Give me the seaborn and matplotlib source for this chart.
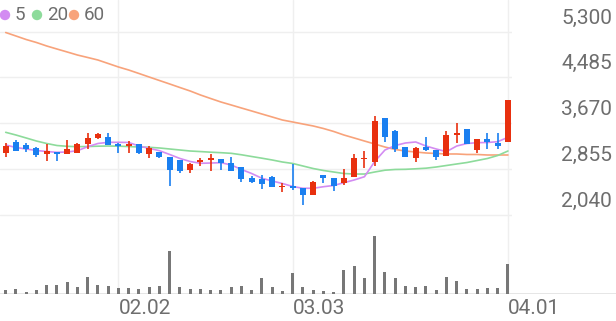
import numpy as np
import matplotlib
matplotlib.use("Agg")
import matplotlib.pyplot as plt
import seaborn as sns
from matplotlib.patches import Circle

# ---------------- data ----------------
dates = ["01.16", "01.19", "01.20", "01.21", "01.22", "01.23", "01.26", "01.27", "01.28", "01.29",
         "01.30", "02.02", "02.03", "02.04", "02.05", "02.06", "02.09", "02.10", "02.11", "02.12",
         "02.13", "02.19", "02.20", "02.23", "02.24", "02.25", "02.26", "02.27", "03.03", "03.04",
         "03.05", "03.06", "03.09", "03.10", "03.11", "03.12", "03.13", "03.16", "03.17", "03.18",
         "03.19", "03.20", "03.23", "03.24", "03.25", "03.26", "03.27", "03.30", "03.31", "04.01"]
tick_dates = ["02.02", "03.03", "04.01"]

opens = [3130, 3325, 3280, 3230, 3110, 3160, 3110, 3140, 3290, 3395,
         3425, 3290, 3260, 3290, 3110, 3160, 3060, 3010, 2835, 2980,
         3010, 3025, 2950, 2890, 2695, 2665, 2705, 2525, 2550, 2505,
         2385, 2745, 2695, 2595, 2715, 3025, 2980, 3755, 3535, 3235,
         3050, 3250, 3190, 3090, 3455, 3560, 3190, 3385, 3320, 3335]
highs = [3310, 3365, 3310, 3235, 3290, 3160, 3365, 3315, 3485, 3485,
         3485, 3310, 3355, 3290, 3260, 3160, 3060, 3010, 2950, 3050,
         3110, 3025, 3070, 2890, 2725, 2745, 2725, 2605, 2940, 2505,
         2640, 2745, 2695, 2845, 3120, 3170, 3795, 3755, 3545, 3235,
         3250, 3415, 3190, 3520, 3665, 3560, 3385, 3485, 3485, 4080]
lows = [3060, 3175, 3150, 3065, 2995, 2995, 3110, 3130, 3200, 3385,
        3280, 3140, 3140, 3112, 3050, 3050, 2550, 2775, 2775, 2910,
        2820, 2835, 2820, 2625, 2595, 2490, 2535, 2445, 2475, 2210,
        2385, 2595, 2460, 2565, 2715, 2875, 2905, 3335, 3160, 3060,
        2980, 3175, 3010, 3090, 3310, 3295, 3130, 3200, 3200, 3335]
closes = [3265, 3180, 3205, 3100, 3170, 3110, 3200, 3295, 3395, 3470,
          3280, 3260, 3290, 3130, 3220, 3070, 2835, 2820, 2935, 3010,
          3050, 2965, 2820, 2665, 2625, 2585, 2535, 2555, 2505, 2385,
          2625, 2685, 2550, 2685, 3040, 3050, 3710, 3415, 3200, 3060,
          3230, 3190, 3070, 3460, 3485, 3295, 3385, 3325, 3265, 4080]

ma5 = [3278, 3234, 3207, 3180, 3162, 3148, 3153, 3177, 3248, 3305,
       3326, 3326, 3323, 3260, 3219, 3177, 3109, 3038, 2984, 2952,
       2957, 2963, 2922, 2842, 2770, 2685, 2637, 2592, 2539, 2507,
       2507, 2535, 2557, 2607, 2655, 2713, 2984, 3189, 3269, 3314,
       3332, 3260, 3207, 3159, 3260, 3305, 3319, 3323, 3337, 3415]
ma20 = [3504, 3456, 3403, 3349, 3305, 3269, 3255, 3248, 3251, 3257,
        3260, 3257, 3251, 3242, 3237, 3225, 3207, 3189, 3171, 3161,
        3150, 3141, 3130, 3104, 3073, 3043, 3011, 2975, 2949, 2904,
        2859, 2824, 2797, 2770, 2761, 2761, 2797, 2829, 2842, 2845,
        2854, 2865, 2886, 2913, 2940, 2966, 3002, 3038, 3091, 3171]
ma60 = [5282, 5220, 5157, 5104, 5042, 4988, 4935, 4881, 4837, 4792,
        4730, 4668, 4614, 4552, 4489, 4427, 4365, 4302, 4240, 4169,
        4106, 4044, 3991, 3937, 3884, 3830, 3777, 3723, 3688, 3652,
        3617, 3572, 3519, 3456, 3403, 3349, 3296, 3242, 3198, 3171,
        3153, 3136, 3127, 3118, 3118, 3109, 3109, 3100, 3100, 3100]

volume = [43, 50, 23, 43, 93, 93, 117, 67, 173, 93,
          77, 60, 60, 50, 67, 77, 427, 67, 50, 50,
          40, 43, 67, 83, 43, 160, 73, 33, 210, 73,
          43, 33, 23, 240, 277, 160, 577, 217, 157, 77,
          73, 80, 43, 167, 127, 50, 50, 60, 60, 300]

price_ticks = [2040, 2855, 3670, 4485, 5300]
ma_labels = ["5", "20", "60"]

# ---------------- style ----------------
RED = "#e8300f"
BLUE = "#1a7ff0"
PURPLE = "#d38cf2"
GREEN = "#8ddb9b"
ORANGE = "#f8a37b"
VOLC = "#777777"
GRID = "#efefef"
TXT = "#6e6e6e"

sns.set_theme(style="white")
plt.rcParams["font.family"] = ["Roboto", "DejaVu Sans"]

W, H = 616, 321
fig = plt.figure(figsize=(W / 100, H / 100), dpi=100)
fig.patch.set_facecolor("white")


def box(x0, y0, x1, y1):
    return [x0 / W, 1 - y1 / H, (x1 - x0) / W, (y1 - y0) / H]


ax = fig.add_axes(box(0, 0, 512, 222))
axv = fig.add_axes(box(0, 222, 616, 294))

n = len(closes)
idx = np.arange(n)
o = np.array(opens, float)
c = np.array(closes, float)
h = np.array(highs, float)
l = np.array(lows, float)

# pixel layout of the category axis
X0, DX = 5.7, 10.25
# price scale: 815 per 45.75 px, 3670 at y=123 px
PPX = 815 / 45.75

# grid
for v in price_ticks:
    ax.axhline(v, color=GRID, lw=1.0, zorder=0)
tick_pos = [dates.index(d) for d in tick_dates]
for p in tick_pos:
    ax.axvline(p, color=GRID, lw=1.0, zorder=0)
    axv.axvline(p, color=GRID, lw=1.0, zorder=0)

# moving averages
sns.lineplot(x=idx, y=ma60, ax=ax, color=ORANGE, lw=1.2, zorder=2)
sns.lineplot(x=idx, y=ma20, ax=ax, color=GREEN, lw=1.2, zorder=2)
sns.lineplot(x=idx, y=ma5, ax=ax, color=PURPLE, lw=1.2, zorder=2)

# candles
cols = np.where(c >= o, RED, BLUE)
ax.vlines(idx, l, h, colors=cols, lw=1.2, zorder=3)
bottom = np.minimum(o, c)
height = np.maximum(np.abs(c - o), 1.6 * PPX)
ax.bar(idx, height, bottom=bottom, width=0.58, color=cols, linewidth=0, zorder=4)

ax.set_xlim((0 - X0) / DX, (512 - X0) / DX)
ax.set_ylim(3670 - (222 - 123) * PPX, 3670 + 123 * PPX)

# volume
sns.barplot(x=idx, y=volume, ax=axv, native_scale=True, color=VOLC, width=0.3,
            saturation=1, errorbar=None, linewidth=0, zorder=3)
axv.axhline(0, color="#e4e4e4", lw=2.0, zorder=2)
axv.set_xlim((0 - X0) / DX, (616 - X0) / DX)
axv.set_ylim(0, 720)

for a in (ax, axv):
    for s in a.spines.values():
        s.set_visible(False)
    a.set_xticks([])
    a.set_yticks([])
    a.set_xlabel("")
    a.set_ylabel("")
    a.set_facecolor("none")

# price labels (right, above grid lines)
for v in price_ticks:
    ax.annotate(f"{v:,}", xy=(1, v), xycoords=("axes fraction", "data"),
                xytext=(100 * 0.72, 13.5 * 0.72), textcoords="offset points",
                ha="right", va="center", fontsize=15, color=TXT)

# date labels
for p, d in zip(tick_pos, tick_dates):
    axv.annotate(d, xy=(p, 0), xycoords=("data", "axes fraction"),
                 xytext=(0, -15 * 0.72), textcoords="offset points",
                 ha="left", va="center", fontsize=15, color=TXT)

# legend
leg_x = [5, 37, 74]
for lab, col, x in zip(ma_labels, [PURPLE, GREEN, ORANGE], leg_x):
    fig.add_artist(Circle((x / 100, (H - 15) / 100), 0.052, transform=fig.dpi_scale_trans,
                          color=col, lw=0))
    fig.text((x + 10) / W, 1 - 15 / H, lab, ha="left", va="center", fontsize=13.5, color=TXT)

fig.savefig("out.png", dpi=100)
